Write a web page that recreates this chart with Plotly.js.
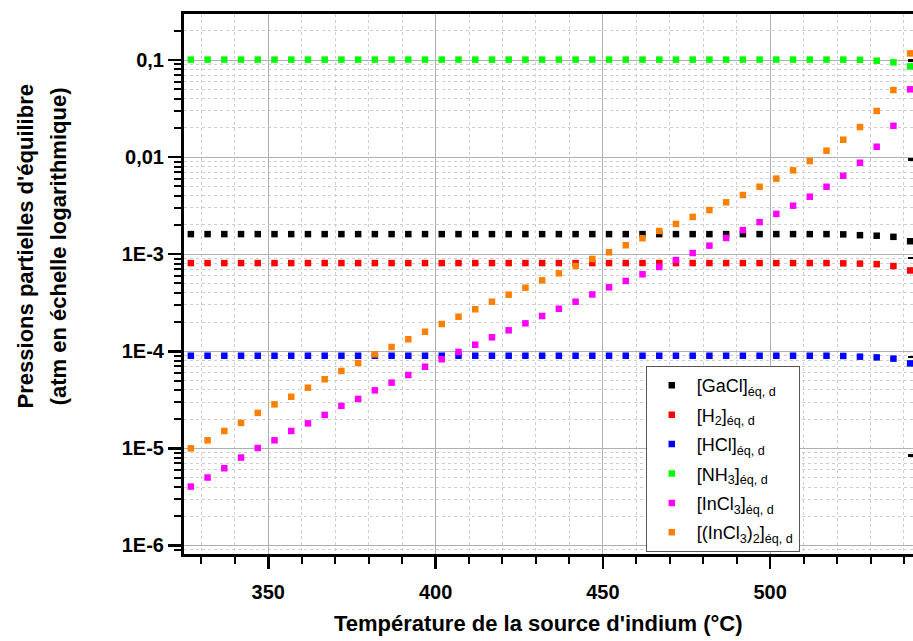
<!DOCTYPE html>
<html>
<head>
<meta charset="utf-8">
<script src="https://cdn.plot.ly/plotly-3.0.1.min.js"></script>
<style>
html, body { margin: 0; padding: 0; overflow: hidden; background: #fff; }
#chart { width: 917px; height: 641px; }
</style>
</head>
<body>
<div id="chart"></div>
<script>
// Temperature of the indium source (°C)
const tempC = [
  326.85, 331.85, 336.85, 341.85, 346.85, 351.85, 356.85, 361.85, 366.85, 371.85,
  376.85, 381.85, 386.85, 391.85, 396.85, 401.85, 406.85, 411.85, 416.85, 421.85,
  426.85, 431.85, 436.85, 441.85, 446.85, 451.85, 456.85, 461.85, 466.85, 471.85,
  476.85, 481.85, 486.85, 491.85, 496.85, 501.85, 506.85, 511.85, 516.85, 521.85,
  526.85, 531.85, 536.85, 541.85
];

const pGaCl = [
  1.61e-3, 1.61e-3, 1.61e-3, 1.61e-3, 1.61e-3, 1.61e-3, 1.61e-3, 1.61e-3, 1.61e-3, 1.61e-3,
  1.61e-3, 1.61e-3, 1.61e-3, 1.61e-3, 1.61e-3, 1.61e-3, 1.61e-3, 1.61e-3, 1.61e-3, 1.61e-3,
  1.61e-3, 1.61e-3, 1.61e-3, 1.61e-3, 1.61e-3, 1.61e-3, 1.61e-3, 1.61e-3, 1.61e-3, 1.61e-3,
  1.61e-3, 1.61e-3, 1.61e-3, 1.61e-3, 1.61e-3, 1.61e-3, 1.61e-3, 1.61e-3, 1.61e-3, 1.60e-3,
  1.57e-3, 1.55e-3, 1.51e-3, 1.36e-3
];

const pH2 = [
  8.1e-4, 8.1e-4, 8.1e-4, 8.1e-4, 8.1e-4, 8.1e-4, 8.1e-4, 8.1e-4, 8.1e-4, 8.1e-4,
  8.1e-4, 8.1e-4, 8.1e-4, 8.1e-4, 8.1e-4, 8.1e-4, 8.1e-4, 8.1e-4, 8.1e-4, 8.1e-4,
  8.1e-4, 8.1e-4, 8.1e-4, 8.1e-4, 8.1e-4, 8.1e-4, 8.1e-4, 8.1e-4, 8.1e-4, 8.1e-4,
  8.1e-4, 8.1e-4, 8.1e-4, 8.1e-4, 8.1e-4, 8.1e-4, 8.1e-4, 8.1e-4, 8.1e-4, 8.05e-4,
  8.0e-4, 7.9e-4, 7.55e-4, 6.8e-4
];

const pHCl = [
  9.0e-5, 9.0e-5, 9.0e-5, 9.0e-5, 9.0e-5, 9.0e-5, 9.0e-5, 9.0e-5, 9.0e-5, 9.0e-5,
  9.0e-5, 9.0e-5, 9.0e-5, 9.0e-5, 9.0e-5, 9.0e-5, 9.0e-5, 9.0e-5, 9.0e-5, 9.0e-5,
  9.0e-5, 9.0e-5, 9.0e-5, 9.0e-5, 9.0e-5, 9.0e-5, 9.0e-5, 9.0e-5, 9.0e-5, 9.0e-5,
  9.0e-5, 9.0e-5, 9.0e-5, 9.0e-5, 9.0e-5, 9.0e-5, 9.0e-5, 9.0e-5, 9.0e-5, 8.95e-5,
  8.8e-5, 8.65e-5, 8.4e-5, 7.5e-5
];

const pNH3 = [
  0.101, 0.101, 0.101, 0.101, 0.101, 0.101, 0.101, 0.101, 0.101, 0.101,
  0.101, 0.101, 0.101, 0.101, 0.101, 0.101, 0.101, 0.101, 0.101, 0.101,
  0.101, 0.101, 0.101, 0.101, 0.101, 0.101, 0.101, 0.101, 0.101, 0.101,
  0.101, 0.101, 0.101, 0.101, 0.101, 0.101, 0.101, 0.101, 0.101, 0.101,
  0.1005, 0.0984, 0.0946, 0.086
];

const pInCl3 = [
  4.04e-6, 5.01e-6, 6.24e-6, 8.04e-6, 1.009e-5, 1.21e-5, 1.51e-5, 1.81e-5, 2.21e-5, 2.74e-5,
  3.23e-5, 3.96e-5, 4.75e-5, 5.70e-5, 6.93e-5, 8.28e-5, 9.84e-5, 1.169e-4, 1.393e-4, 1.644e-4,
  1.941e-4, 2.31e-4, 2.74e-4, 3.24e-4, 3.85e-4, 4.56e-4, 5.30e-4, 6.21e-4, 7.38e-4, 8.71e-4,
  1.028e-3, 1.225e-3, 1.469e-3, 1.77e-3, 2.14e-3, 2.60e-3, 3.16e-3, 3.91e-3, 4.95e-3, 6.43e-3,
  8.75e-3, 1.279e-2, 2.10e-2, 4.99e-2
];

const pInCl3Dimer = [
  1.00e-5, 1.21e-5, 1.51e-5, 1.83e-5, 2.32e-5, 2.84e-5, 3.40e-5, 4.22e-5, 5.15e-5, 6.27e-5,
  7.57e-5, 9.31e-5, 1.107e-4, 1.33e-4, 1.59e-4, 1.91e-4, 2.27e-4, 2.71e-4, 3.24e-4, 3.83e-4,
  4.52e-4, 5.38e-4, 6.35e-4, 7.55e-4, 8.93e-4, 1.047e-3, 1.236e-3, 1.459e-3, 1.734e-3, 2.05e-3,
  2.42e-3, 2.85e-3, 3.42e-3, 4.07e-3, 4.95e-3, 6.00e-3, 7.31e-3, 9.12e-3, 1.164e-2, 1.51e-2,
  2.04e-2, 2.99e-2, 4.91e-2, 0.117
];

const seriesNames = [
  '[GaCl]<sub>éq, d</sub>',
  '[H<sub>2</sub>]<sub>éq, d</sub>',
  '[HCl]<sub>éq, d</sub>',
  '[NH<sub>3</sub>]<sub>éq, d</sub>',
  '[InCl<sub>3</sub>]<sub>éq, d</sub>',
  '[(InCl<sub>3</sub>)<sub>2</sub>]<sub>éq, d</sub>'
];
const seriesValues = [pGaCl, pH2, pHCl, pNH3, pInCl3, pInCl3Dimer];
const seriesColors = ['#000000', '#ff0000', '#0000ff', '#00ff00', '#ff00ff', '#ff8000'];

const yTickVals = [1e-6, 1e-5, 1e-4, 1e-3, 1e-2, 1e-1];
const yTickText = ['1E-6', '1E-5', '1E-4', '1E-3', '0,01', '0,1'];

const xTitle = "Température de la source d'indium (°C)";
const yTitle1 = "Pressions partielles d'équilibre";
const yTitle2 = "(atm en échelle logarithmique)";

const FONT = 'Liberation Sans, Arial, Helvetica, sans-serif';

const traces = seriesValues.map((vals, i) => ({
  type: 'scatter',
  mode: 'markers',
  x: tempC,
  y: vals,
  name: seriesNames[i],
  legendgroup: 'g' + i,
  marker: { symbol: 'square', size: 6.5, color: seriesColors[i], line: { width: 0 } },
  hoverinfo: 'x+y'
}));

// empty trace so that the right frame axis exists
traces.push({
  type: 'scatter', mode: 'markers', x: [], y: [],
  xaxis: 'x', yaxis: 'y2', showlegend: false, hoverinfo: 'skip'
});

const layout = {
  width: 917,
  height: 641,
  margin: { l: 184, r: 0, t: 14, b: 87 },
  paper_bgcolor: '#ffffff',
  plot_bgcolor: '#ffffff',
  font: { family: FONT, color: '#000' },
  showlegend: true,
  legend: {
    x: 0.630, y: 0.348, xanchor: 'left', yanchor: 'top',
    bgcolor: '#ffffff', bordercolor: '#555555', borderwidth: 1,
    font: { family: FONT, size: 18, color: '#000' },
    itemwidth: 40,
    tracegroupgap: 3
  },
  xaxis: {
    type: 'linear',
    range: [324.8, 543.9],
    tick0: 0, dtick: 50,
    ticks: 'outside', ticklen: 12, tickwidth: 2.5, tickcolor: '#000',
    ticklabelstandoff: 6,
    showline: true, mirror: true, linewidth: 3, linecolor: '#000',
    showgrid: true, gridcolor: '#b0b0b0', gridwidth: 1,
    zeroline: false,
    tickfont: { family: FONT, size: 20, weight: 'bold', color: '#000' },
    minor: {
      dtick: 10, tick0: 0,
      ticks: 'outside', ticklen: 7, tickwidth: 2, tickcolor: '#000',
      showgrid: true, gridcolor: '#cfcfcf', gridwidth: 1, griddash: 'dot'
    }
  },
  yaxis: {
    type: 'log',
    range: [-6.088, -0.526],
    tickmode: 'array', tickvals: yTickVals, ticktext: yTickText,
    ticks: 'outside', ticklen: 13, tickwidth: 2.5, tickcolor: '#000',
    showline: true, linewidth: 3, linecolor: '#000',
    showgrid: true, gridcolor: '#b0b0b0', gridwidth: 1,
    zeroline: false,
    tickfont: { family: FONT, size: 20, weight: 'bold', color: '#000' },
    minor: {
      dtick: 'D1',
      ticks: 'outside', ticklen: 7, tickwidth: 2, tickcolor: '#000',
      showgrid: true, gridcolor: '#cfcfcf', gridwidth: 1, griddash: 'dot'
    }
  },
  yaxis2: {
    type: 'log', overlaying: 'y', side: 'right', anchor: 'x',
    range: [-5.998, -0.527], autorange: false,
    dtick: 1,
    ticks: 'inside', ticklen: 9, tickwidth: 2.5, tickcolor: '#000',
    showline: true, linewidth: 3, linecolor: '#000',
    showticklabels: false, showgrid: false, zeroline: false
  },
  annotations: [
    {
      text: xTitle, xref: 'paper', yref: 'paper',
      x: 0.4823, y: -0.1278, xanchor: 'center', yanchor: 'middle',
      showarrow: false,
      font: { family: FONT, size: 22, weight: 'bold', color: '#000' }
    },
    {
      text: yTitle1, xref: 'paper', yref: 'paper',
      x: -0.2150, y: 0.5704, xanchor: 'center', yanchor: 'middle',
      textangle: -90, showarrow: false,
      font: { family: FONT, size: 22, weight: 'bold', color: '#000' }
    },
    {
      text: yTitle2, xref: 'paper', yref: 'paper',
      x: -0.1700, y: 0.5704, xanchor: 'center', yanchor: 'middle',
      textangle: -90, showarrow: false,
      font: { family: FONT, size: 22, weight: 'bold', color: '#000' }
    }
  ]
};

Plotly.newPlot('chart', traces, layout, { displayModeBar: false, staticPlot: true });
</script>
</body>
</html>
